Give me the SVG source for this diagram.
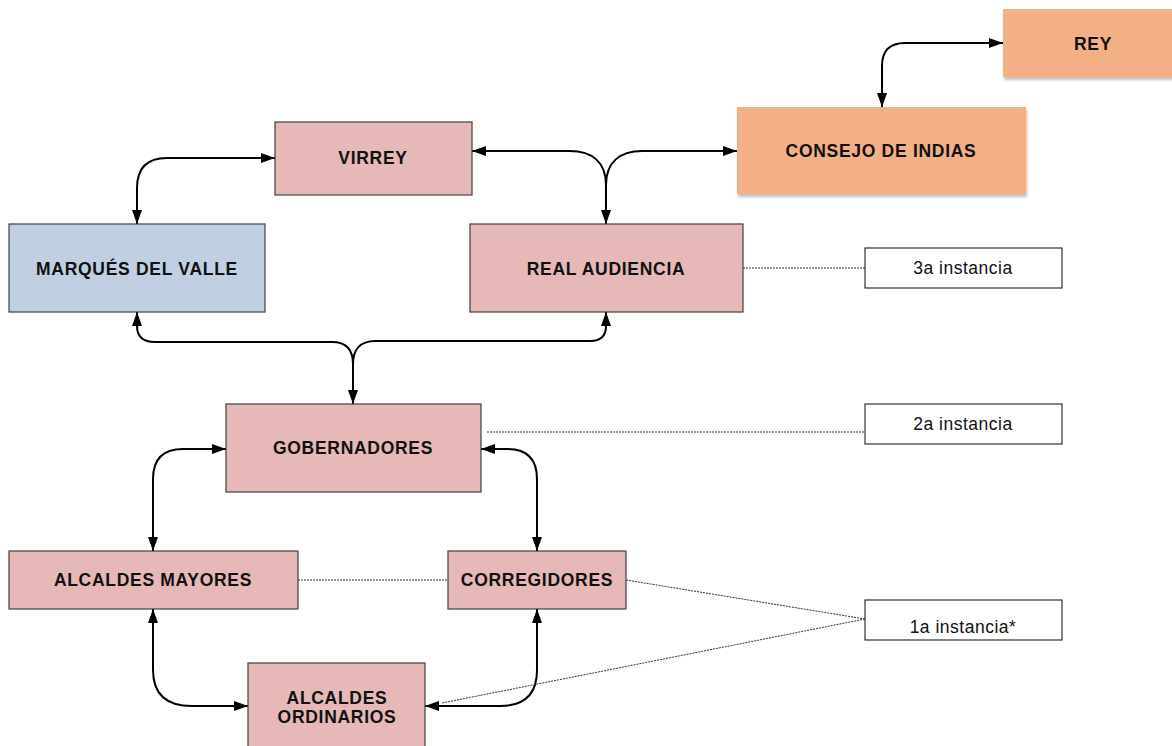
<svg xmlns="http://www.w3.org/2000/svg" width="1172" height="746" viewBox="0 0 1172 746">
<style>
.n{stroke:#404040;stroke-width:1.2}
.pink{fill:#E6B8B7}
.blue{fill:#C0D0E2}
.orange{fill:#F3B084;stroke:none}
.lbl{font-family:"Liberation Sans",Arial,sans-serif;font-weight:bold;font-size:17.5px;letter-spacing:0.7px;fill:#111;text-anchor:middle}
.inst{font-family:"Liberation Sans",Arial,sans-serif;font-size:17.5px;letter-spacing:0.5px;fill:#111;text-anchor:middle}
.box{fill:#fff;stroke:#333;stroke-width:1.2}
.c{fill:none;stroke:#000;stroke-width:2}
.d{fill:none;stroke:#333;stroke-width:1;stroke-dasharray:2 1}
</style>
<defs>
<marker id="ah" viewBox="0 0 14 10" refX="14" refY="5" markerWidth="14" markerHeight="10" markerUnits="userSpaceOnUse" orient="auto-start-reverse">
<path d="M0,0 L14,5 L0,10 z" fill="#000"/>
</marker>
<filter id="sh" x="-10%" y="-10%" width="130%" height="140%">
<feDropShadow dx="1" dy="3" stdDeviation="1.5" flood-color="#000" flood-opacity="0.25"/>
</filter>
</defs>
<g id="connectors">
<path class="c" d="M882 107 V66 Q882 43 905 43 H1003" marker-start="url(#ah)" marker-end="url(#ah)"/>
<path class="c" d="M275 158 H167 Q137 158 137 188 V224" marker-start="url(#ah)" marker-end="url(#ah)"/>
<path class="c" d="M606 224 V185 C606 162 592 151 570 151 H472" marker-start="url(#ah)" marker-end="url(#ah)"/>
<path class="c" d="M606 185 C606 162 620 151 642 151 H737" marker-end="url(#ah)"/>
<path class="c" d="M353 404 V364 C353 350 346 342 332 342 H155 Q137 342 137 326 V312" marker-start="url(#ah)" marker-end="url(#ah)"/>
<path class="c" d="M353 364 C353 350 360 341 375 341 H590 Q606 341 606 326 V312" marker-end="url(#ah)"/>
<path class="c" d="M226 449 H183 Q153 449 153 479 V551" marker-start="url(#ah)" marker-end="url(#ah)"/>
<path class="c" d="M481 449 H507 Q537 449 537 479 V551" marker-start="url(#ah)" marker-end="url(#ah)"/>
<path class="c" d="M153 609 V670 Q153 706 192 706 H248" marker-start="url(#ah)" marker-end="url(#ah)"/>
<path class="c" d="M537 609 V670 Q537 706 500 706 H425" marker-start="url(#ah)" marker-end="url(#ah)"/>
<path class="d" d="M743 268 H865"/>
<path class="d" d="M487 432 H865"/>
<path class="d" d="M298 580 H448"/>
<path class="d" d="M626 580 L865 619"/>
<path class="d" d="M865 619 L442 703"/>
</g>
<g id="rey">
<rect class="orange" x="1003" y="9" width="182" height="68" filter="url(#sh)"/>
<text class="lbl" x="1093" y="50">REY</text>
</g>
<g id="consejo">
<rect class="orange" x="737" y="107" width="289" height="87" filter="url(#sh)"/>
<text class="lbl" x="881" y="157">CONSEJO DE INDIAS</text>
</g>
<g id="virrey">
<rect class="n pink" x="275" y="122" width="197" height="73"/>
<text class="lbl" x="373" y="164">VIRREY</text>
</g>
<g id="marques">
<rect class="n blue" x="9" y="224" width="256" height="88"/>
<text class="lbl" x="137" y="275">MARQUÉS DEL VALLE</text>
</g>
<g id="audiencia">
<rect class="n pink" x="470" y="224" width="273" height="88"/>
<text class="lbl" x="606" y="275">REAL AUDIENCIA</text>
</g>
<g id="gobernadores">
<rect class="n pink" x="226" y="404" width="255" height="88"/>
<text class="lbl" x="353" y="454">GOBERNADORES</text>
</g>
<g id="alcaldes-mayores">
<rect class="n pink" x="9" y="551" width="289" height="58"/>
<text class="lbl" x="153" y="586">ALCALDES MAYORES</text>
</g>
<g id="corregidores">
<rect class="n pink" x="448" y="551" width="178" height="58"/>
<text class="lbl" x="537" y="586">CORREGIDORES</text>
</g>
<g id="alcaldes-ordinarios">
<rect class="n pink" x="248" y="663" width="177" height="90"/>
<text class="lbl" x="337" y="704">ALCALDES</text>
<text class="lbl" x="337" y="723">ORDINARIOS</text>
</g>
<g id="inst3">
<rect class="box" x="865" y="248" width="197" height="40"/>
<text class="inst" x="963" y="274">3a instancia</text>
</g>
<g id="inst2">
<rect class="box" x="865" y="404" width="197" height="40"/>
<text class="inst" x="963" y="430">2a instancia</text>
</g>
<g id="inst1">
<rect class="box" x="865" y="600" width="197" height="40"/>
<text class="inst" x="963" y="633">1a instancia*</text>
</g>
</svg>
